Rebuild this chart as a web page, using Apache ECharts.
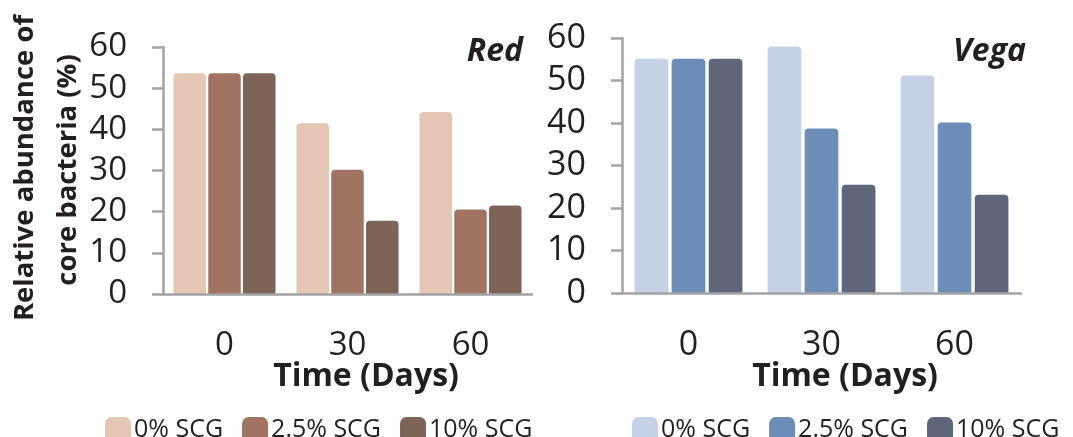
<!DOCTYPE html>
<html>
<head>
<meta charset="utf-8">
<script src="https://cdn.jsdelivr.net/npm/echarts@6/dist/echarts.min.js"></script>
<style>
  html, body { margin: 0; padding: 0; background: #fff; overflow: hidden; }
  #red { position: absolute; left: 0; top: 0; width: 620px; height: 437px; }
  #vega { position: absolute; left: 540px; top: 0; width: 533px; height: 437px; }
</style>
</head>
<body>
<div id="red"></div>
<div id="vega"></div>
<script>
// data
const days = ['0', '30', '60'];
const seriesNames = ['0% SCG', '2.5% SCG', '10% SCG'];
const red0 = [53.6, 41.5, 44.2];
const red25 = [53.6, 30.2, 20.5];
const red10 = [53.6, 17.8, 21.5];
const vega0 = [55.1, 58.0, 51.2];
const vega25 = [55.1, 38.7, 40.1];
const vega10 = [55.1, 25.5, 23.1];
const redColors = ['#e5c5b4', '#a07362', '#7e6359'];
const vegaColors = ['#c5d2e5', '#6c8db8', '#5f6679'];

const axisGrey = '#a3a3a5';
const txt = '#231f20';
const fam = 'Open Sans';

function makeOption(o) {
  return {
    animation: false,
    textStyle: { fontFamily: fam },
    grid: o.grid,
    legend: {
      left: o.legendLeft, top: 412, width: 520,
      itemWidth: 26, itemHeight: 26, itemGap: 19,
      icon: 'roundRect',
      textStyle: { fontFamily: fam, fontSize: 25, color: txt, padding: [0, 0, 0, -2] },
      data: seriesNames
    },
    xAxis: {
      type: 'category',
      data: days,
      z: 5,
      axisLine: { lineStyle: { color: axisGrey, width: 2.5 } },
      axisTick: { length: 11, lineStyle: { color: axisGrey, width: 2.5 } },
      axisLabel: { fontFamily: fam, fontSize: o.fs, color: txt, margin: 35 }
    },
    yAxis: {
      type: 'value',
      min: 0, max: 60, interval: 10,
      z: 5,
      splitLine: { show: false },
      axisLine: { show: true, lineStyle: { color: axisGrey, width: 2.5 } },
      axisTick: { show: true, length: 11, lineStyle: { color: axisGrey, width: 2.5 } },
      axisLabel: { fontFamily: fam, fontSize: o.fs, color: txt, margin: 36 }
    },
    graphic: [
      { type: 'text', x: o.titleX, y: 52,
        style: { text: o.title, font: 'italic bold 32px "Open Sans"', fill: txt, align: 'right', verticalAlign: 'middle' } },
      { type: 'text', x: o.xNameX, y: 377,
        style: { text: 'Time (Days)', font: 'bold 32px "Open Sans"', fill: txt, align: 'center', verticalAlign: 'middle' } }
    ].concat(o.extra || []),
    series: o.values.map((v, i) => ({
      name: seriesNames[i],
      type: 'bar',
      data: v,
      barWidth: o.barWidth,
      barGap: o.barGap,
      itemStyle: { color: o.colors[i], borderRadius: [4, 4, 0, 0] }
    }))
  };
}

const redChart = echarts.init(document.getElementById('red'));
redChart.setOption(makeOption({
  grid: { left: 163, top: 47, width: 369, height: 247 },
  legendLeft: 100,
  fs: 33,
  title: 'Red', titleX: 523,
  xNameX: 366,
  barWidth: 32.5, barGap: '7%',
  colors: redColors,
  values: [red0, red25, red10],
  extra: [
    { type: 'text', x: 25, y: 168, rotation: Math.PI / 2,
      style: { text: 'Relative abundance of', font: 'bold 27.5px "Open Sans"', fill: txt, align: 'center', verticalAlign: 'middle' } },
    { type: 'text', x: 68, y: 170, rotation: Math.PI / 2,
      style: { text: 'core bacteria (%)', font: 'bold 27.5px "Open Sans"', fill: txt, align: 'center', verticalAlign: 'middle' } }
  ]
}));

const vegaChart = echarts.init(document.getElementById('vega'));
vegaChart.setOption(makeOption({
  grid: { left: 82, top: 38, width: 399, height: 255 },
  legendLeft: 87,
  fs: 34,
  title: 'Vega', titleX: 486,
  xNameX: 305,
  barWidth: 33.7, barGap: '10%',
  colors: vegaColors,
  values: [vega0, vega25, vega10]
}));
</script>
</body>
</html>
